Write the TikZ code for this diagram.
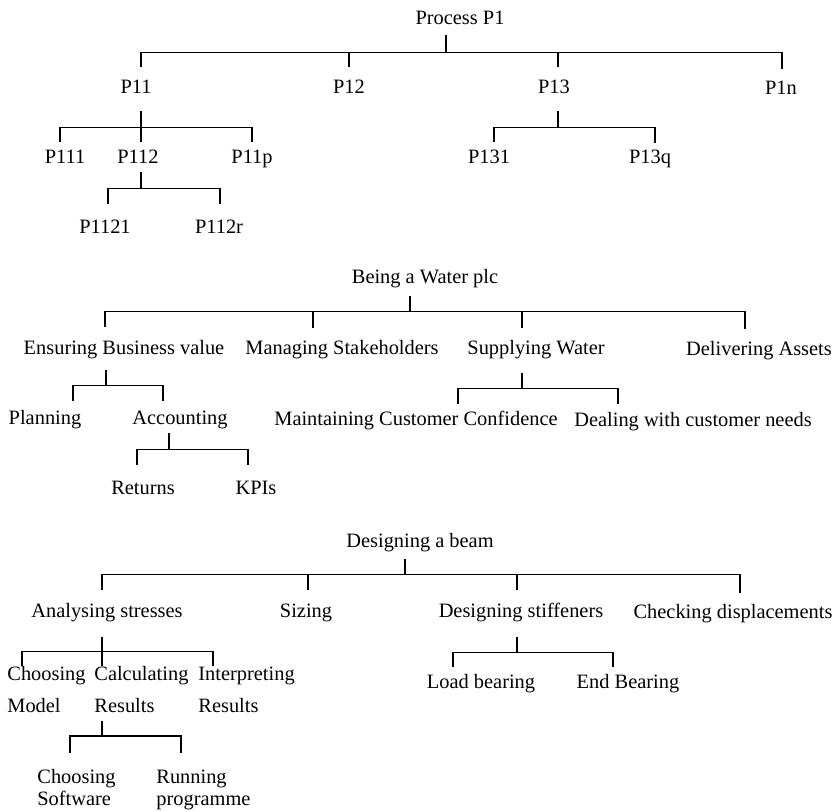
\documentclass[tikz,border=0pt]{standalone}
\usepackage{fontspec}
\setmainfont{Liberation Serif}
\newcommand{\twolines}[3]{\begin{tabular}[t]{@{}l@{}}#1\\[#3]#2\end{tabular}}

\begin{document}
\begin{tikzpicture}[x=0.5pt, y=-0.5pt,
    every node/.style={font=\fontsize{10.2}{12}\selectfont},
    lbl/.style={inner sep=0pt, text height=6.6pt, text depth=0pt, anchor=base},
    mlbl/.style={inner sep=0pt, text height=6.6pt, anchor=base west},
    link/.style={line width=0.6pt}]
  \useasboundingbox (0,0) rectangle (834,811);

  % Process P1
  \node[lbl] (P1) at (460,24) {Process P1};
  \node[lbl] (P11) at (136,93) {P11};
  \node[lbl] (P12) at (349,93) {P12};
  \node[lbl] (P13) at (554,93) {P13};
  \node[lbl] (P1n) at (781,94) {P1n};
  \node[lbl] (P111) at (65,163) {P111};
  \node[lbl] (P112) at (138,163) {P112};
  \node[lbl] (P11p) at (252,163) {P11p};
  \node[lbl] (P1121) at (105,233) {P1121};
  \node[lbl] (P112r) at (219,233) {P112r};
  \node[lbl] (P131) at (489,163) {P131};
  \node[lbl] (P13q) at (650,163) {P13q};

  \draw[link] ([xshift=-7pt,yshift=-5.5pt]P1.south) -- ++(0,17) coordinate (f-P1);
  \draw[link] ([xshift=2.5pt,yshift=6.4pt]P11.north) |- (f-P1);
  \draw[link] ([yshift=6.4pt]P12.north) |- (f-P1);
  \draw[link] ([xshift=2pt,yshift=6.4pt]P13.north) |- (f-P1);
  \draw[link] ([xshift=0.5pt,yshift=5.9pt]P1n.north) |- (f-P1);
  \draw[link] ([xshift=2.5pt,yshift=-9pt]P11.south) -- ++(0,16) coordinate (f-P11);
  \draw[link] ([xshift=-2.5pt,yshift=3.9pt]P111.north) |- (f-P11);
  \draw[link] ([xshift=1.5pt,yshift=3.9pt]P112.north) |- (f-P11);
  \draw[link] ([yshift=3.9pt]P11p.north) |- (f-P11);
  \draw[link] ([xshift=1.5pt,yshift=-4.5pt]P112.south) -- ++(0,16) coordinate (f-P112);
  \draw[link] ([xshift=1.5pt,yshift=7.9pt]P1121.north) |- (f-P112);
  \draw[link] ([xshift=0.5pt,yshift=7.9pt]P112r.north) |- (f-P112);
  \draw[link] ([xshift=2pt,yshift=-9pt]P13.south) -- ++(0,16) coordinate (f-P13);
  \draw[link] ([xshift=2.5pt,yshift=3.9pt]P131.north) |- (f-P13);
  \draw[link] ([xshift=2.5pt,yshift=3.4pt]P13q.north) |- (f-P13);

  % Being a Water plc
  \node[lbl] (W) at (425,283) {Being a Water plc};
  \node[lbl] (W1) at (124,354) {Ensuring Business value};
  \node[lbl] (W2) at (342,354) {Managing Stakeholders};
  \node[lbl] (W3) at (536,354) {Supplying Water};
  \node[lbl] (W4) at (759,355) {Delivering Assets};
  \node[lbl] (W11) at (45,424) {Planning};
  \node[lbl] (W12) at (180,424) {Accounting};
  \node[lbl] (W121) at (143,494) {Returns};
  \node[lbl] (W122) at (256,494) {KPIs};
  \node[lbl] (W31) at (416,425) {Maintaining Customer Confidence};
  \node[lbl] (W32) at (693,426) {Dealing with customer needs};

  \draw[link] ([xshift=-7.5pt,yshift=-6.5pt]W.south) -- ++(0,15) coordinate (f-W);
  \draw[link] ([xshift=-9.5pt,yshift=6.9pt]W1.north) |- (f-W);
  \draw[link] ([xshift=-14.5pt,yshift=6.4pt]W2.north) |- (f-W);
  \draw[link] ([xshift=-7pt,yshift=6.4pt]W3.north) |- (f-W);
  \draw[link] ([xshift=-7pt,yshift=6.4pt]W4.north) |- (f-W);
  \draw[link] ([xshift=-9pt,yshift=-8pt]W1.south) -- ++(0,15) coordinate (f-W1);
  \draw[link] ([xshift=14pt,yshift=4.9pt]W11.north) |- (f-W1);
  \draw[link] ([xshift=-8.5pt,yshift=4.9pt]W12.north) |- (f-W1);
  \draw[link] ([xshift=-5.5pt,yshift=-4.5pt]W12.south) -- ++(0,16) coordinate (f-W12);
  \draw[link] ([xshift=-3pt,yshift=7.9pt]W121.north) |- (f-W12);
  \draw[link] ([xshift=-4pt,yshift=7.9pt]W122.north) |- (f-W12);
  \draw[link] ([xshift=-7pt,yshift=-9.5pt]W3.south) -- ++(0,15) coordinate (f-W3);
  \draw[link] ([xshift=21pt,yshift=3.9pt]W31.north) |- (f-W3);
  \draw[link] ([xshift=-37.5pt,yshift=4.4pt]W32.north) |- (f-W3);

  % Designing a beam
  \node[lbl] (B) at (420,547) {Designing a beam};
  \node[lbl] (B1) at (107,617) {Analysing stresses};
  \node[lbl] (B2) at (306,617) {Sizing};
  \node[lbl] (B3) at (521,617) {Designing stiffeners};
  \node[lbl] (B4) at (733,618) {Checking displacements};
  \node[mlbl] (B11) at (7,680) {\twolines{Choosing}{Model}{4pt}};
  \node[mlbl] (B12) at (94,680) {\twolines{Calculating}{Results}{4pt}};
  \node[mlbl] (B13) at (198,680) {\twolines{Interpreting}{Results}{4pt}};
  \node[mlbl] (B121) at (37,783) {\twolines{Choosing}{Software}{-1pt}};
  \node[mlbl] (B122) at (156,783) {\twolines{Running}{programme}{-1pt}};
  \node[lbl] (B31) at (481,688) {Load bearing};
  \node[lbl] (B32) at (628,688) {End Bearing};

  \draw[link] ([xshift=-7.5pt,yshift=-6pt]B.south) -- ++(0,15) coordinate (f-B);
  \draw[link] ([xshift=-2.5pt,yshift=6.9pt]B1.north) |- (f-B);
  \draw[link] ([xshift=1pt,yshift=6.9pt]B2.north) |- (f-B);
  \draw[link] ([xshift=-2pt,yshift=6.9pt]B3.north) |- (f-B);
  \draw[link] ([xshift=3.5pt,yshift=5.9pt]B4.north) |- (f-B);
  \draw[link] ([xshift=-2.5pt,yshift=-10pt]B1.south) -- ++(0,14) coordinate (f-B1);
  \draw[link] ([xshift=7.5pt]B11.north west) |- (f-B1);
  \draw[link] ([xshift=4pt]B12.north west) |- (f-B1);
  \draw[link] ([xshift=7.5pt]B13.north west) |- (f-B1);
  \draw[link] ([xshift=4pt,yshift=-20.5pt]B12.base west) -- ++(0,15) coordinate (f-B12);
  \draw[link] ([xshift=16.5pt,yshift=8.4pt]B121.north west) |- (f-B12);
  \draw[link] ([xshift=12.5pt,yshift=8.4pt]B122.north west) |- (f-B12);
  \draw[link] ([xshift=-2pt,yshift=-10pt]B3.south) -- ++(0,15) coordinate (f-B3);
  \draw[link] ([xshift=-14pt,yshift=3.9pt]B31.north) |- (f-B3);
  \draw[link] ([xshift=-7.5pt,yshift=3.9pt]B32.north) |- (f-B3);
\end{tikzpicture}
\end{document}
